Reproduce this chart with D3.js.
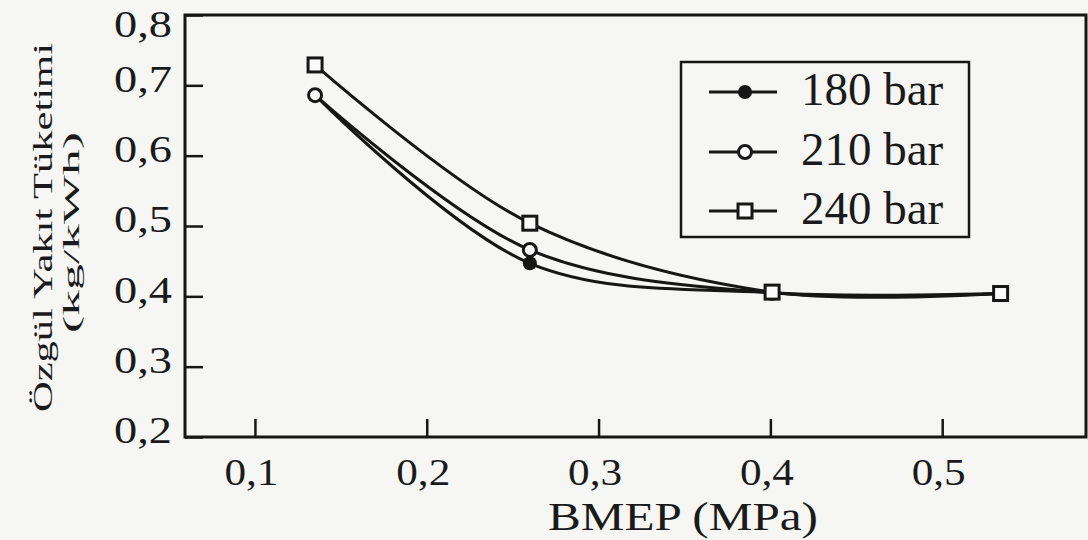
<!DOCTYPE html>
<html>
<head>
<meta charset="utf-8">
<script src="https://cdn.jsdelivr.net/npm/d3@7"></script>
<style>
  html, body { margin: 0; padding: 0; background: #f6f6f5; }
  svg { display: block; }
  text { font-family: "Liberation Serif", "Times New Roman", serif; fill: #1a1a1a; }
</style>
</head>
<body>
<svg id="chart" width="1088" height="540"></svg>
<script>
// ---- data ----
const bmep = [0.135, 0.26, 0.401, 0.534];            // BMEP (MPa)
const sfc180 = [0.686, 0.447, 0.405, 0.404];          // 180 bar
const sfc210 = [0.686, 0.466, 0.405, 0.404];          // 210 bar
const sfc240 = [0.729, 0.504, 0.406, 0.404];          // 240 bar
const seriesNames = ["180 bar", "210 bar", "240 bar"];
const xTickValues = [0.1, 0.2, 0.3, 0.4, 0.5];
const xTickLabels = ["0,1", "0,2", "0,3", "0,4", "0,5"];
const yTickValues = [0.2, 0.3, 0.4, 0.5, 0.6, 0.7, 0.8];
const yTickLabels = ["0,2", "0,3", "0,4", "0,5", "0,6", "0,7", "0,8"];
const xTitle = "BMEP (MPa)";
const yTitle1 = "Özgül Yakıt Tüketimi";
const yTitle2 = "(kg/kWh)";

// ---- layout ----
const svg = d3.select("#chart");
const L = 185, R = 1086, T = 15, B = 437;
const x = d3.scaleLinear().domain([0.0593, 0.5837]).range([L, R]);
const y = d3.scaleLinear().domain([0.2, 0.8]).range([B, T]);
const ink = "#161616";

// axes (ticks inward)
const xAxis = d3.axisBottom(x).tickValues(xTickValues)
  .tickFormat((d, i) => xTickLabels[i]).tickSize(-18).tickPadding(22);
const gx = svg.append("g").attr("transform", `translate(0,${B})`).call(xAxis);
gx.select(".domain").remove();
gx.selectAll(".tick line").attr("stroke", ink).attr("stroke-width", 2.5);
gx.selectAll(".tick text").attr("font-family", "Liberation Serif").attr("font-size", 37)
  .attr("fill", ink).attr("textLength", 54).attr("lengthAdjust", "spacingAndGlyphs")
  .attr("x", -4);

const yAxis = d3.axisLeft(y).tickValues(yTickValues)
  .tickFormat((d, i) => yTickLabels[i]).tickSize(-18).tickPadding(13);
const gy = svg.append("g").attr("transform", `translate(${L},0)`).call(yAxis);
gy.select(".domain").remove();
gy.selectAll(".tick line").attr("stroke", ink).attr("stroke-width", 2.5);
gy.selectAll(".tick text").attr("font-family", "Liberation Serif").attr("font-size", 37)
  .attr("fill", ink).attr("textLength", 58).attr("lengthAdjust", "spacingAndGlyphs")
  .attr("y", d => Math.max(y(d) - 6, 25) - y(d));

// frame
svg.append("rect").attr("x", L).attr("y", T).attr("width", R - L).attr("height", B - T)
  .attr("fill", "none").attr("stroke", ink).attr("stroke-width", 3);

// axis titles
svg.append("text").attr("x", 683).attr("y", 530).attr("text-anchor", "middle")
  .attr("font-size", 40).attr("textLength", 270).attr("lengthAdjust", "spacingAndGlyphs")
  .text(xTitle);
svg.append("text").attr("transform", "translate(52,227.5) rotate(-90)")
  .attr("text-anchor", "middle").attr("font-size", 27)
  .attr("textLength", 369).attr("lengthAdjust", "spacingAndGlyphs").text(yTitle1);
svg.append("text").attr("transform", "translate(79,232.5) rotate(-90)")
  .attr("text-anchor", "middle").attr("font-size", 24)
  .attr("textLength", 201).attr("lengthAdjust", "spacingAndGlyphs").text(yTitle2);

// series
const series = [
  { name: seriesNames[0], values: sfc180, marker: "filled" },
  { name: seriesNames[1], values: sfc210, marker: "circle" },
  { name: seriesNames[2], values: sfc240, marker: "square" }
];
const line = d3.line().x(d => x(d[0])).y(d => y(d[1])).curve(d3.curveCatmullRom.alpha(0.5));

function drawMarker(g, type, cx, cy) {
  if (type === "filled") {
    g.append("circle").attr("cx", cx).attr("cy", cy).attr("r", 7).attr("fill", ink);
  } else if (type === "circle") {
    g.append("circle").attr("cx", cx).attr("cy", cy).attr("r", 6.5)
      .attr("fill", "#fafafa").attr("stroke", ink).attr("stroke-width", 3);
  } else {
    g.append("rect").attr("x", cx - 7).attr("y", cy - 7).attr("width", 14).attr("height", 14)
      .attr("fill", "#fafafa").attr("stroke", ink).attr("stroke-width", 3);
  }
}

const gLines = svg.append("g");
series.forEach(s => {
  gLines.append("path").datum(bmep.map((b, i) => [b, s.values[i]]))
    .attr("d", line).attr("fill", "none").attr("stroke", ink).attr("stroke-width", 3);
});
const gMarks = svg.append("g");
series.forEach(s => {
  bmep.forEach((b, i) => drawMarker(gMarks, s.marker, x(b), y(s.values[i])));
});

// legend
const lg = svg.append("g");
lg.append("rect").attr("x", 681).attr("y", 62).attr("width", 288).attr("height", 175)
  .attr("fill", "#f6f6f5").attr("stroke", ink).attr("stroke-width", 2.5);
const rowY = [92, 152, 211];
series.forEach((s, i) => {
  lg.append("line").attr("x1", 709).attr("x2", 777).attr("y1", rowY[i]).attr("y2", rowY[i])
    .attr("stroke", ink).attr("stroke-width", 3);
  drawMarker(lg, s.marker, 745, rowY[i]);
  lg.append("text").attr("x", 801).attr("y", rowY[i] + 13).attr("font-size", 47)
    .attr("fill", ink).text(s.name);
});
</script>
</body>
</html>
